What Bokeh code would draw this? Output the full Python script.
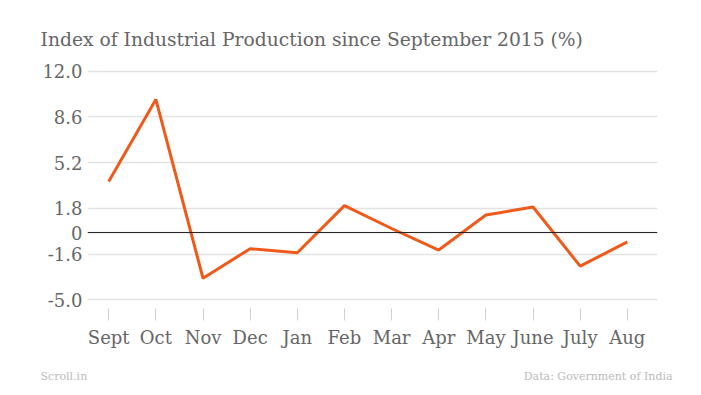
from bokeh.plotting import figure
from bokeh.models import FixedTicker, Span, Title, Range1d
from bokeh.embed import file_html
from bokeh.resources import INLINE

months = ["Sept", "Oct", "Nov", "Dec", "Jan", "Feb", "Mar", "Apr", "May", "June", "July", "Aug"]
iip = [3.8, 9.9, -3.4, -1.2, -1.5, 2.0, 0.3, -1.3, 1.3, 1.9, -2.5, -0.7]
y_ticks = [-5.0, -1.6, 0, 1.8, 5.2, 8.6, 12.0]
y_tick_labels = ["-5.0", "-1.6", "0", "1.8", "5.2", "8.6", "12.0"]

title_text = "Index of Industrial Production since September 2015 (%)"
source_left = "Scroll.in"
source_right = "Data: Government of India"

FONT = "DejaVu Serif"
xs = list(range(len(months)))

p = figure(width=701, height=395, output_backend="svg", toolbar_location=None,
           x_range=Range1d(-0.45, 11.64), y_range=Range1d(-5.65, 12.35),
           min_border_left=87, min_border_right=44, min_border_top=66, min_border_bottom=87)
p.outline_line_color = None
p.background_fill_color = "white"
p.border_fill_color = "white"

p.title.text = title_text
p.title.align = "left"
p.title.offset = -47
p.title.standoff = 34
p.title.text_font = FONT
p.title.text_font_size = "18.7px"
p.title.text_font_style = "normal"
p.title.text_color = "#666666"

p.xaxis.ticker = FixedTicker(ticks=xs)
p.xaxis.major_label_overrides = {i: m for i, m in enumerate(months)}
p.xaxis.axis_line_color = None
p.xaxis.major_tick_line_color = "#d0d0d0"
p.xaxis.major_tick_out = 12
p.xaxis.major_tick_in = 0
p.xaxis.minor_tick_line_color = None
p.xaxis.major_label_standoff = 6
p.xaxis.major_label_text_font = FONT
p.xaxis.major_label_text_font_size = "18px"
p.xaxis.major_label_text_color = "#666666"

p.yaxis.ticker = FixedTicker(ticks=y_ticks)
p.yaxis.major_label_overrides = {t: l for t, l in zip(y_ticks, y_tick_labels)}
p.yaxis.axis_line_color = None
p.yaxis.major_tick_line_color = None
p.yaxis.major_tick_out = 0
p.yaxis.major_tick_in = 0
p.yaxis.minor_tick_line_color = None
p.yaxis.major_label_standoff = 5
p.yaxis.major_label_text_font = FONT
p.yaxis.major_label_text_font_size = "18px"
p.yaxis.major_label_text_color = "#666666"

p.xgrid.grid_line_color = None
p.ygrid.grid_line_color = "#e2e2e2"
p.ygrid.grid_line_width = 1.5

p.add_layout(Span(location=0, dimension="width", line_color="#222222", line_width=1))

p.line(xs, iip, line_color="#EF5A1A", line_width=3)

p.add_layout(Title(text=source_left, align="left", offset=-47, standoff=-64,
                   text_font=FONT, text_font_size="11px", text_font_style="normal",
                   text_color="#bbbbbb"), "below")
p.add_layout(Title(text=source_right, align="right", offset=-15, standoff=-64,
                   text_font=FONT, text_font_size="11px", text_font_style="normal",
                   text_color="#bbbbbb"), "below")

open("out.html", "w").write(file_html(p, INLINE))
